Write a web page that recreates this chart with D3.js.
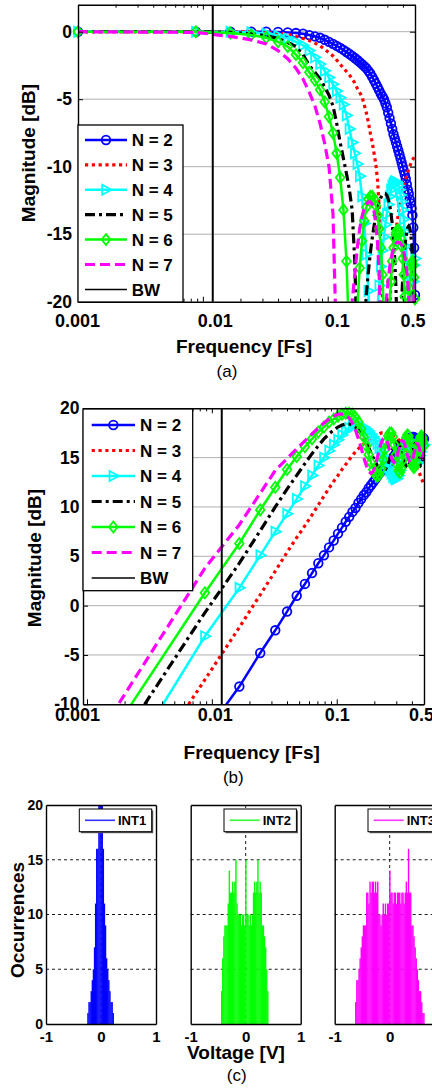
<!DOCTYPE html>
<html>
<head>
<meta charset="utf-8">
<script src="https://cdn.jsdelivr.net/npm/d3@7"></script>
<style>
  body { margin: 0; background: #fff; }
  svg { display: block; }
</style>
</head>
<body>
<svg id="chart" width="432" height="1089"></svg>
<script>
// ---------- data ----------
// frequency grid [Fs]
const freq = [0.001,
  0.0088, 0.0166, 0.0244, 0.0322, 0.0400, 0.0478, 0.0556, 0.0634, 0.0712, 0.0790,
  0.0868, 0.0946, 0.1024, 0.1102, 0.1180, 0.1258, 0.1336, 0.1413, 0.1491, 0.1569,
  0.1647, 0.1725, 0.1803, 0.1881, 0.1959, 0.2037, 0.2115, 0.2193, 0.2271, 0.2349,
  0.2427, 0.2505, 0.2583, 0.2661, 0.2739, 0.2817, 0.2895, 0.2973, 0.3051, 0.3129,
  0.3207, 0.3285, 0.3363, 0.3441, 0.3519, 0.3597, 0.3675, 0.3753, 0.3831, 0.3908,
  0.3986, 0.4064, 0.4142, 0.4220, 0.4298, 0.4376, 0.4454, 0.4532, 0.4610, 0.4688,
  0.4766, 0.4844, 0.4922, 0.5000];

const orderLabels = ["N = 2", "N = 3", "N = 4", "N = 5", "N = 6", "N = 7"];
const bwFreq = 0.012;

const bodeMajorTicks = [0.001, 0.01, 0.1, 0.5];
const bodeTickLabels = ["0.001", "0.01", "0.1", "0.5"];
const bodeMinorTicks = [0.002, 0.003, 0.004, 0.005, 0.006, 0.007, 0.008, 0.009,
  0.02, 0.03, 0.04, 0.05, 0.06, 0.07, 0.08, 0.09, 0.2, 0.3, 0.4];
const magTicksA = [-20, -15, -10, -5, 0];
const magTicksB = [-10, -5, 0, 5, 10, 15, 20];

// (a) magnitude [dB]
const stfN2 = [0,
  0, 0, 0, 0, -0.02, -0.05, -0.1, -0.15, -0.25, -0.35,
  -0.45, -0.6, -0.75, -0.9, -1.05, -1.2, -1.35, -1.5, -1.65, -1.8,
  -1.95, -2.1, -2.25, -2.4, -2.55, -2.7, -2.9, -3.1, -3.35, -3.6,
  -3.85, -4.1, -4.35, -4.6, -4.8, -5.0, -5.3, -5.6, -6.0, -6.4,
  -6.8, -7.2, -7.6, -7.9, -8.2, -8.5, -8.8, -9.1, -9.4, -9.7,
  -10.0, -10.3, -10.6, -10.9, -11.3, -11.7, -12.0, -12.4, -12.7, -13.1,
  -13.6, -14.5, -16.0, -19.5];
const stfN3 = [0,
  0, 0, 0, -0.05, -0.1, -0.2, -0.35, -0.5, -0.65, -0.85,
  -1.05, -1.3, -1.55, -1.8, -2.1, -2.4, -2.7, -2.95, -3.2, -3.5,
  -3.8, -4.2, -4.5, -4.8, -5.4, -6.0, -6.7, -7.5, -8.2, -9.0,
  -9.8, -11.0, -13.0, -15.8, -19.5, -25, -32, -27, -23, -20.5,
  -18.8, -17.4, -16.3, -15.4, -14.7, -14.1, -13.5, -13.0, -12.6, -12.2,
  -11.8, -11.5, -11.2, -10.9, -10.6, -10.4, -10.2, -10.0, -9.8, -9.6,
  -9.5, -9.4, -9.3, -9.2];
const stfN4 = [0,
  0, 0, -0.05, -0.15, -0.3, -0.5, -0.75, -1.0, -1.4, -1.9,
  -2.4, -2.9, -3.4, -3.9, -4.4, -4.9, -5.4, -6.2, -7.2, -8.2,
  -9.0, -9.8, -10.7, -12.2, -14.2, -16.5, -19.2, -23, -30, -28,
  -23, -20.5, -18.8, -17.4, -16.2, -15.2, -14.3, -13.5, -12.8, -12.2,
  -11.7, -11.4, -11.2, -11.1, -11.1, -11.2, -11.4, -11.7, -12.1, -12.6,
  -13.2, -13.9, -14.8, -15.9, -17.2, -18.8, -21, -24, -27, -24,
  -20.5, -18.5, -17.3, -16.8];
const stfN5 = [0,
  0, -0.05, -0.15, -0.3, -0.5, -0.8, -1.1, -1.7, -2.5, -3.0,
  -3.5, -4.1, -4.7, -5.5, -6.8, -8.2, -9.4, -10.5, -11.7, -13.2,
  -17, -24, -32, -26, -22, -19.5, -17.8, -16.4, -15.3, -14.4,
  -13.7, -13.1, -12.6, -12.3, -12.1, -12.0, -12.0, -12.1, -12.4, -12.8,
  -13.4, -14.2, -15.3, -16.8, -19, -22, -27, -28, -23, -20,
  -18.3, -17.0, -16.0, -15.3, -14.8, -14.5, -14.4, -14.5, -14.9, -15.6,
  -16.6, -18.0, -20, -22];
const stfN6 = [0,
  0, -0.1, -0.25, -0.45, -0.75, -1.1, -1.7, -2.3, -3.0, -3.6,
  -4.3, -5.2, -6.3, -7.5, -9.0, -10.8, -13.2, -17, -23, -32,
  -26, -20.5, -17.5, -15.5, -14.0, -13.0, -12.4, -12.2, -12.2, -12.4,
  -12.9, -13.6, -14.6, -16.0, -18, -21, -26, -30, -24, -20.5,
  -18.5, -17.0, -16.0, -15.3, -14.9, -14.7, -14.7, -14.9, -15.3, -15.9,
  -16.8, -18, -19.6, -22, -26, -24, -21, -19, -17.8, -17.2,
  -17.0, -17.3, -18.2, -19.8];
const stfN7 = [0,
  -0.05, -0.35, -0.6, -0.9, -1.4, -2.0, -2.7, -3.5, -4.5, -5.5,
  -6.8, -8.3, -10.0, -13.5, -24, -34, -27, -24, -22, -20,
  -18, -16, -14.6, -13.7, -13.1, -12.8, -12.6, -12.6, -12.8, -13.3,
  -14.2, -15.6, -18, -22, -30, -24, -21, -19.5, -18.4, -17.5,
  -16.9, -16.4, -16.1, -15.9, -15.7, -15.6, -15.6, -15.6, -15.7, -15.8,
  -16.0, -16.3, -16.7, -17.2, -17.8, -18.6, -19.6, -21, -23, -26,
  -24, -21, -19, -18];

// (b) magnitude [dB]
const ntfN2 = [-33,
  -13.0, -8.2, -4.8, -2.5, -0.6, 1.0, 2.2, 3.3, 4.3, 5.1,
  5.9, 6.6, 7.3, 7.9, 8.5, 9.0, 9.5, 9.9, 10.4, 10.8,
  11.2, 11.5, 11.9, 12.2, 12.5, 12.8, 13.1, 13.4, 13.6, 13.8,
  14.0, 14.2, 14.4, 14.6, 14.8, 15.0, 15.2, 15.4, 15.6, 15.8,
  15.9, 16.1, 16.2, 16.4, 16.5, 16.6, 16.8, 16.9, 17.0, 17.0,
  17.1, 17.1, 17.1, 17.0, 16.9, 16.7, 16.5, 16.4, 16.5, 16.7,
  16.9, 17.0, 17.0, 16.9];
const ntfN3 = [-25.5,
  -7.5, -2.2, 1.1, 3.5, 5.4, 6.9, 8.1, 9.2, 10.2, 11.1,
  11.9, 12.6, 13.2, 13.8, 14.3, 14.8, 15.2, 15.6, 15.9, 16.2,
  16.4, 16.6, 16.8, 17.0, 17.1, 17.2, 17.3, 17.4, 17.5, 17.5,
  17.5, 17.5, 17.5, 17.5, 17.4, 17.3, 17.2, 17.1, 17.0, 16.8,
  16.7, 16.5, 16.3, 16.1, 15.9, 15.8, 15.6, 15.5, 15.3, 15.2,
  15.0, 14.8, 14.6, 14.4, 14.2, 14.0, 13.8, 13.6, 13.4, 13.1,
  12.9, 12.7, 12.4, 12.2];
const ntfN4 = [-22.5,
  -3.1, 1.8, 5.1, 7.5, 9.3, 10.8, 12.1, 13.2, 14.2, 15.0,
  15.7, 16.3, 16.8, 17.3, 17.7, 18.0, 18.2, 18.3, 18.3, 18.2,
  18.1, 17.9, 17.7, 17.4, 17.1, 16.8, 16.4, 16.0, 15.6, 15.2,
  14.8, 14.4, 14.0, 13.7, 13.4, 13.1, 12.9, 12.8, 12.9, 13.2,
  13.7, 14.3, 15.0, 15.6, 16.1, 16.5, 16.7, 16.8, 16.7, 16.4,
  16.0, 15.6, 15.2, 14.8, 14.5, 14.4, 14.5, 14.8, 15.2, 15.6,
  16.0, 16.2, 16.3, 16.3];
const ntfN5 = [-18.9,
  -0.7, 4.3, 7.6, 10.0, 11.8, 13.2, 14.4, 15.4, 16.2, 16.9,
  17.4, 17.8, 18.1, 18.3, 18.4, 18.4, 18.3, 18.1, 17.8, 17.4,
  17.0, 16.5, 16.0, 15.5, 15.0, 14.6, 14.2, 13.9, 13.7, 13.6,
  13.7, 14.0, 14.4, 14.9, 15.4, 15.9, 16.3, 16.5, 16.6, 16.5,
  16.2, 15.8, 15.3, 14.8, 14.4, 14.1, 14.0, 14.1, 14.5, 15.0,
  15.5, 16.0, 16.3, 16.4, 16.2, 15.8, 15.3, 14.8, 14.4, 14.2,
  14.3, 14.7, 15.2, 15.6];
const ntfN6 = [-16.8,
  1.3, 6.3, 9.7, 12.0, 13.8, 15.1, 16.1, 16.9, 17.6, 18.1,
  18.6, 18.9, 19.2, 19.4, 19.5, 19.5, 19.4, 19.1, 18.6, 17.9,
  17.1, 16.2, 15.3, 14.5, 13.8, 13.3, 13.1, 13.3, 13.9, 14.8,
  15.8, 16.6, 17.2, 17.5, 17.5, 17.1, 16.3, 15.3, 14.3, 13.7,
  13.5, 13.9, 14.7, 15.6, 16.4, 17.0, 17.3, 17.2, 16.7, 15.9,
  15.0, 14.2, 14.0, 14.1, 14.5, 15.1, 15.7, 16.3, 16.8, 17.1,
  17.2, 17.0, 16.6, 16.2];
const ntfN7 = [-15,
  3.8, 8.2, 11.4, 13.7, 14.9, 15.9, 16.7, 17.4, 18.0, 18.5,
  18.9, 19.2, 19.4, 19.4, 19.3, 19.0, 18.5, 17.8, 16.9, 16.0,
  15.0, 14.2, 13.6, 13.4, 13.6, 14.2, 15.0, 15.8, 16.5, 16.9,
  17.0, 16.8, 16.3, 15.6, 15.0, 14.6, 14.5, 14.7, 15.2, 15.8,
  16.3, 16.6, 16.7, 16.6, 16.3, 15.8, 15.3, 14.9, 14.6, 14.5,
  14.6, 14.9, 15.3, 15.8, 16.2, 16.4, 16.4, 16.2, 15.8, 15.4,
  15.1, 15.0, 15.2, 15.6];

// (c) histograms, 0.02 V bins
const histNames = ["INT1", "INT2", "INT3"];
const histBinWidth = 0.02;
const histTicksY = [0, 5, 10, 15, 20];
const histTicksX = [-1, 0, 1];
const int1Start = -0.24;
const int1Counts = [1, 2, 2, 3, 4, 5, 7, 11, 16, 16, 22, 30, 34, 26, 16, 11, 9, 6, 5, 4, 3, 2, 2, 1];
const int2Start = -0.44;
const int2Counts = [3, 6, 8, 9, 9, 9, 11, 14, 12, 12, 13, 12, 13, 15, 11, 10, 10, 10, 9, 10, 10, 9,
  15, 10, 10, 9, 10, 9, 10, 12, 13, 12, 13, 15, 12, 13, 12, 9, 9, 8, 7, 5, 3];
const int3Start = -0.62;
const int3Counts = [2, 4, 4, 5, 6, 7, 8, 9, 9, 9, 12, 12, 11, 13, 12, 13, 13, 12, 13, 12, 13, 10,
  10, 9, 10, 11, 10, 11, 10, 11, 11, 14, 12, 12, 11, 12, 12, 11, 12, 12, 12, 11, 12, 12, 11, 12,
  13, 12, 16, 12, 12, 9, 9, 8, 7, 6, 5, 4, 3, 3, 2, 1, 1];

// ---------- drawing ----------
const FONT = '"Liberation Sans", Arial, Helvetica, sans-serif';
const svg = d3.select("#chart");

const seriesStyle = [
  { color: "#0000ff", width: 2.5, dash: null, marker: "circle" },
  { color: "#ff0000", width: 3.2, dash: "3.2,3.6", marker: null },
  { color: "#00ffff", width: 2.5, dash: null, marker: "triangle" },
  { color: "#000000", width: 3.2, dash: "10,4,3,4", marker: null },
  { color: "#00ff00", width: 2.5, dash: null, marker: "diamond" },
  { color: "#ff00ff", width: 3.2, dash: "10,5", marker: null }
];
const markerPath = {
  circle: "M4.3,0A4.3,4.3 0 1,1 -4.3,0A4.3,4.3 0 1,1 4.3,0Z",
  triangle: "M5.5,0L-3.8,-5L-3.8,5Z",
  diamond: "M0,-5.5L4.3,0L0,5.5L-4.3,0Z"
};

function styleAxis(sel, size) {
  sel.attr("font-family", FONT).attr("font-size", size).attr("font-weight", "bold");
  sel.select(".domain").attr("stroke-width", 1.4);
}

function drawBode(p, curves) {
  const x = d3.scaleLog().domain(p.xDomain).range([p.left, p.right]);
  const y = d3.scaleLinear().domain(p.yDomain).range([p.bottom, p.top]);
  const g = svg.append("g");

  g.append("clipPath").attr("id", p.id).append("rect")
    .attr("x", p.left).attr("y", p.top)
    .attr("width", p.right - p.left).attr("height", p.bottom - p.top);

  g.append("g").selectAll("line")
    .data(p.yTicks.filter(d => d > p.yDomain[0] && d < p.yDomain[1]))
    .join("line")
    .attr("x1", p.left).attr("x2", p.right)
    .attr("y1", d => y(d)).attr("y2", d => y(d))
    .attr("stroke", "#9a9a9a").attr("stroke-width", 0.8);

  const line = d3.line().x(d => x(d[0])).y(d => y(d[1]));
  curves.forEach((vals, i) => {
    const st = seriesStyle[i];
    const pts = freq.map((f, j) => [f, vals[j]]);
    g.append("path").datum(pts)
      .attr("clip-path", `url(#${p.id})`)
      .attr("d", line)
      .attr("fill", "none")
      .attr("stroke", st.color)
      .attr("stroke-width", st.width)
      .attr("stroke-dasharray", st.dash);
    if (st.marker) {
      g.append("g").selectAll("path")
        .data(pts.filter(d => d[1] >= p.yDomain[0] && d[1] <= p.yDomain[1]))
        .join("path")
        .attr("d", markerPath[st.marker])
        .attr("transform", d => `translate(${x(d[0])},${y(d[1])})`)
        .attr("fill", "none")
        .attr("stroke", st.color)
        .attr("stroke-width", 1.8);
    }
  });

  g.append("line")
    .attr("x1", x(bwFreq)).attr("x2", x(bwFreq))
    .attr("y1", p.top).attr("y2", p.bottom)
    .attr("stroke", "#000").attr("stroke-width", 2);

  // axes
  const gb = g.append("g").attr("transform", `translate(0,${p.bottom})`)
    .call(d3.axisBottom(x).tickValues(bodeMajorTicks)
      .tickFormat((d, i) => bodeTickLabels[i])
      .tickSize(-5).tickSizeOuter(0).tickPadding(p.xPad));
  gb.selectAll(".tick text").attr("dx", (d, i) => p.labelDx[i]);
  styleAxis(gb, 18);
  g.append("g").attr("transform", `translate(0,${p.bottom})`)
    .call(d3.axisBottom(x).tickValues(bodeMinorTicks).tickSize(-3).tickFormat(""))
    .select(".domain").remove();

  const gt = g.append("g").attr("transform", `translate(0,${p.top})`)
    .call(d3.axisTop(x).tickValues(bodeMajorTicks).tickSize(-5).tickSizeOuter(0).tickFormat(""));
  styleAxis(gt, 18);
  g.append("g").attr("transform", `translate(0,${p.top})`)
    .call(d3.axisTop(x).tickValues(bodeMinorTicks).tickSize(-3).tickFormat(""))
    .select(".domain").remove();

  const gl = g.append("g").attr("transform", `translate(${p.left},0)`)
    .call(d3.axisLeft(y).tickValues(p.yTicks).tickFormat(d => String(d))
      .tickSize(-5).tickSizeOuter(0).tickPadding(p.yPad));
  styleAxis(gl, 17.5);
  const gr = g.append("g").attr("transform", `translate(${p.right},0)`)
    .call(d3.axisRight(y).tickValues(p.yTicks).tickSize(-5).tickSizeOuter(0).tickFormat(""));
  styleAxis(gr, 17.5);

  // titles
  g.append("text")
    .attr("transform", `translate(${p.ylab[0]},${p.ylab[1]}) rotate(-90)`)
    .attr("text-anchor", "middle").attr("dy", "0.36em")
    .attr("font-family", FONT).attr("font-size", 19).attr("font-weight", "bold")
    .text("Magnitude [dB]");
  g.append("text")
    .attr("x", p.xlab[0]).attr("y", p.xlab[1]).attr("text-anchor", "middle")
    .attr("font-family", FONT).attr("font-size", 19).attr("font-weight", "bold")
    .text("Frequency [Fs]");
  g.append("text")
    .attr("x", p.caption[1]).attr("y", p.caption[2]).attr("text-anchor", "middle")
    .attr("font-family", FONT).attr("font-size", 17)
    .text(p.caption[0]);

  // legend
  const L = p.legend;
  const lg = g.append("g");
  lg.append("rect").attr("x", L.x).attr("y", L.y).attr("width", L.w).attr("height", L.h)
    .attr("fill", "#fff").attr("stroke", "#000").attr("stroke-width", 1.3);
  const rows = orderLabels.map((t, i) => ({ text: t, st: seriesStyle[i] }))
    .concat([{ text: "BW", st: { color: "#000", width: 1.5, dash: null, marker: null } }]);
  rows.forEach((r, i) => {
    const cy = L.row0 + i * L.gap;
    lg.append("line")
      .attr("x1", L.x1).attr("x2", L.x2).attr("y1", cy).attr("y2", cy)
      .attr("stroke", r.st.color).attr("stroke-width", r.st.width)
      .attr("stroke-dasharray", r.st.dash);
    if (r.st.marker) {
      lg.append("path").attr("d", markerPath[r.st.marker])
        .attr("transform", `translate(${(L.x1 + L.x2) / 2},${cy})`)
        .attr("fill", "none").attr("stroke", r.st.color).attr("stroke-width", 1.8);
    }
    lg.append("text").attr("x", L.tx).attr("y", cy + 6.2)
      .attr("font-family", FONT).attr("font-size", 17).attr("font-weight", "bold")
      .text(r.text);
  });
}

drawBode({
  id: "clipA", left: 78, right: 415, top: 4.7, bottom: 301.7,
  xDomain: [0.001, 0.5], yDomain: [-20, 2], yTicks: magTicksA,
  labelDx: [-1, 12, 9, -2.5], xPad: 13, yPad: 6,
  ylab: [28.5, 153], xlab: [244, 353], caption: ["(a)", 227, 377],
  legend: { x: 78, y: 125, w: 105, h: 177, row0: 140, gap: 24.9, x1: 85, x2: 127, tx: 131.7 }
}, [stfN2, stfN3, stfN4, stfN5, stfN6, stfN7]);

drawBode({
  id: "clipB", left: 83, right: 424, top: 408.3, bottom: 704.3,
  xDomain: [0.000929, 0.5], yDomain: [-10, 20], yTicks: magTicksB,
  labelDx: [-10, 3, 0, -3], xPad: 4, yPad: 3.5,
  ylab: [34, 558], xlab: [251.7, 758.5], caption: ["(b)", 233.3, 783],
  legend: { x: 83, y: 409, w: 109.7, h: 181.7, row0: 425, gap: 25.5, x1: 91.7, x2: 135, tx: 140 }
}, [ntfN2, ntfN3, ntfN4, ntfN5, ntfN6, ntfN7]);

// ---------- (c) histograms ----------
const histTop = 805, histBottom = 1024, histWidth = 110;
const histPanels = [
  { left: 46, start: int1Start, counts: int1Counts, color: "#0000ff", name: histNames[0], labels: true },
  { left: 190.7, start: int2Start, counts: int2Counts, color: "#00ff00", name: histNames[1], labels: false },
  { left: 334.7, start: int3Start, counts: int3Counts, color: "#ff00ff", name: histNames[2], labels: false }
];

histPanels.forEach((hp, pi) => {
  const hx = d3.scaleLinear().domain([-1, 1]).range([hp.left, hp.left + histWidth]);
  const hy = d3.scaleLinear().domain([0, 20]).range([histBottom, histTop]);
  const g = svg.append("g");
  const cid = "clipH" + pi;
  g.append("clipPath").attr("id", cid).append("rect")
    .attr("x", hp.left).attr("y", histTop).attr("width", histWidth).attr("height", histBottom - histTop);

  // dashed grid
  g.append("g").selectAll("line").data([5, 10, 15]).join("line")
    .attr("x1", hp.left).attr("x2", hp.left + histWidth)
    .attr("y1", d => hy(d)).attr("y2", d => hy(d))
    .attr("stroke", "#000").attr("stroke-width", 0.9).attr("stroke-dasharray", "3,3");
  g.append("line")
    .attr("x1", hx(0)).attr("x2", hx(0)).attr("y1", histTop).attr("y2", histBottom)
    .attr("stroke", "#000").attr("stroke-width", 0.9).attr("stroke-dasharray", "3,3");

  // bars
  const bins = hp.counts.map((n, i) => ({ c: hp.start + i * histBinWidth, n: n }));
  g.append("g").attr("clip-path", `url(#${cid})`)
    .selectAll("rect").data(bins).join("rect")
    .attr("x", d => hx(d.c - histBinWidth / 2))
    .attr("width", d => hx(d.c + histBinWidth / 2) - hx(d.c - histBinWidth / 2) + 0.3)
    .attr("y", d => hy(d.n))
    .attr("height", d => hy(0) - hy(d.n))
    .attr("fill", hp.color);

  // axes
  const gl = g.append("g").attr("transform", `translate(${hp.left},0)`)
    .call(d3.axisLeft(hy).tickValues(histTicksY).tickSize(0).tickSizeOuter(0)
      .tickPadding(3).tickFormat(hp.labels ? (d => String(d)) : ""));
  styleAxis(gl, 14);
  const gr = g.append("g").attr("transform", `translate(${hp.left + histWidth},0)`)
    .call(d3.axisRight(hy).tickValues(histTicksY).tickSize(0).tickSizeOuter(0).tickFormat(""));
  styleAxis(gr, 14);
  const gt = g.append("g").attr("transform", `translate(0,${histTop})`)
    .call(d3.axisTop(hx).tickValues(histTicksX).tickSize(0).tickSizeOuter(0).tickFormat(""));
  styleAxis(gt, 15);
  const gb = g.append("g").attr("transform", `translate(0,${histBottom})`)
    .call(d3.axisBottom(hx).tickValues(histTicksX).tickSize(0).tickSizeOuter(0)
      .tickPadding(7.5).tickFormat(d => String(d)));
  styleAxis(gb, 15);

  // legend
  const lx = hp.left + 33.3, ly = 809;
  g.append("rect").attr("x", lx + 1.5).attr("y", ly + 1.5).attr("width", 72.4).attr("height", 22.7)
    .attr("fill", "#555");
  g.append("rect").attr("x", lx).attr("y", ly).attr("width", 72.4).attr("height", 22.7)
    .attr("fill", "#fff").attr("stroke", "#000").attr("stroke-width", 1);
  g.append("line").attr("x1", lx + 5.7).attr("x2", lx + 35.7).attr("y1", ly + 11.3).attr("y2", ly + 11.3)
    .attr("stroke", hp.color).attr("stroke-width", 1.6).attr("stroke-opacity", 0.8);
  g.append("text").attr("x", lx + 38.7).attr("y", ly + 16)
    .attr("font-family", FONT).attr("font-size", 13).attr("font-weight", "bold")
    .text(hp.name);
});

svg.append("text")
  .attr("transform", "translate(17,920) rotate(-90)")
  .attr("text-anchor", "middle").attr("dy", "0.36em")
  .attr("font-family", FONT).attr("font-size", 19).attr("font-weight", "bold")
  .text("Occurrences");
svg.append("text")
  .attr("x", 236).attr("y", 1058.5).attr("text-anchor", "middle")
  .attr("font-family", FONT).attr("font-size", 19).attr("font-weight", "bold")
  .text("Voltage [V]");
svg.append("text")
  .attr("x", 236.7).attr("y", 1081).attr("text-anchor", "middle")
  .attr("font-family", FONT).attr("font-size", 17)
  .text("(c)");
</script>
</body>
</html>
